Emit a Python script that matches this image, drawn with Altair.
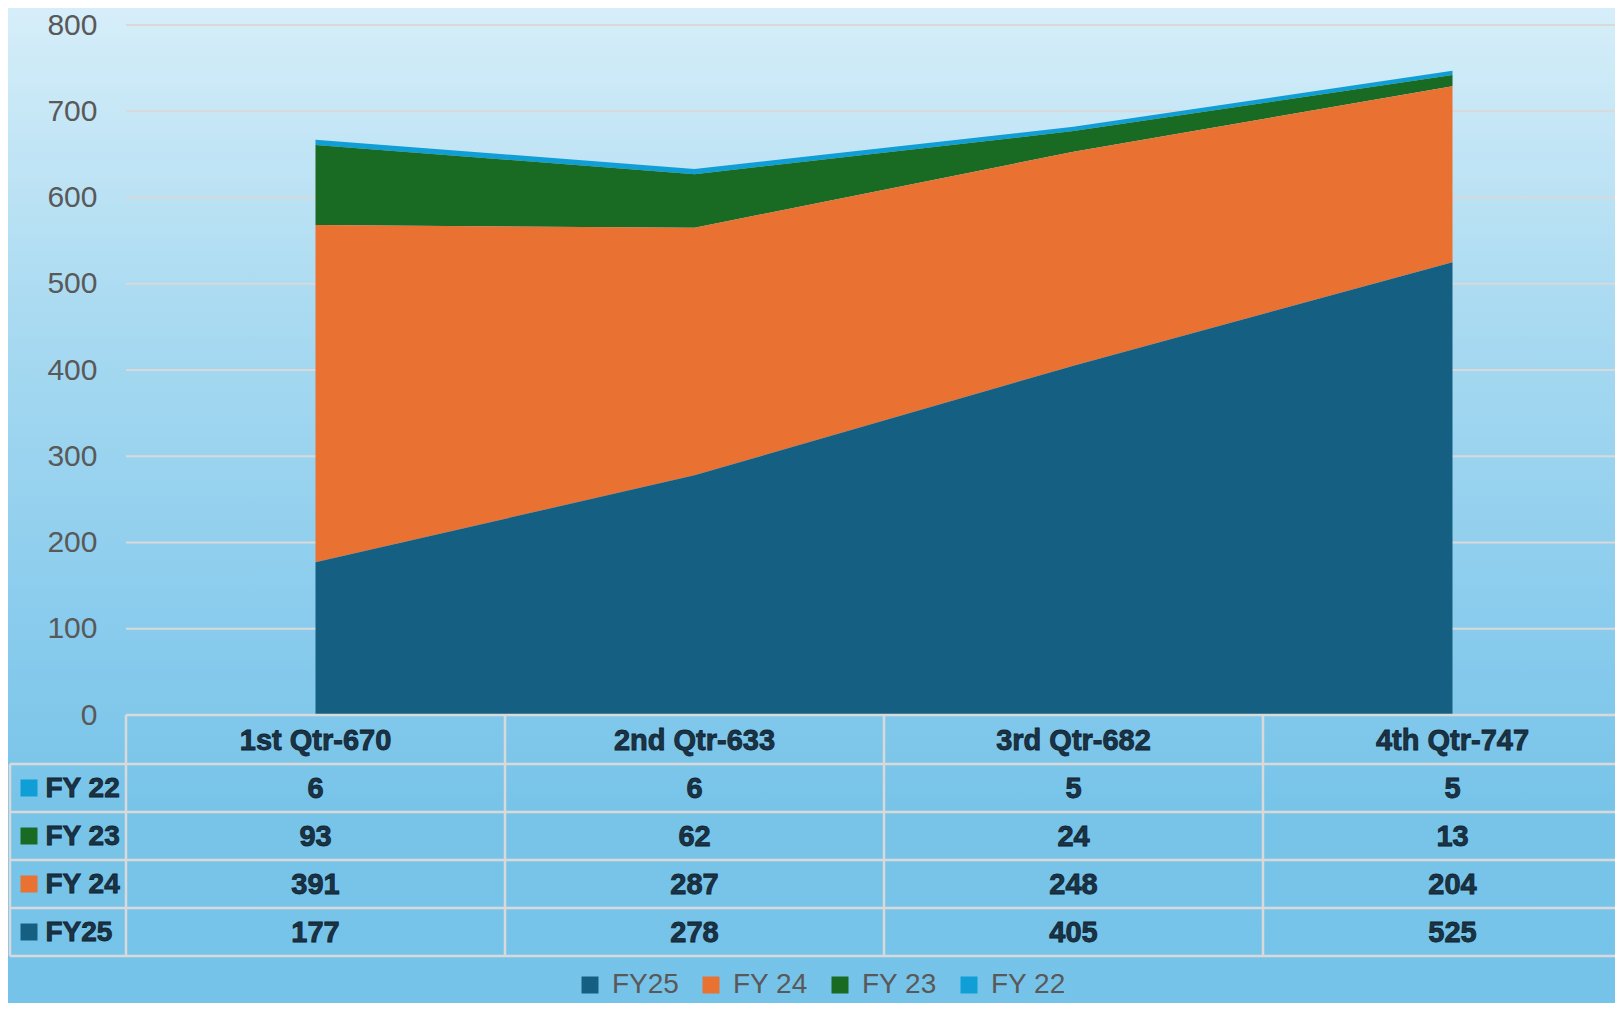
import altair as alt
import pandas as pd

# ---------------- data ----------------
quarters = ["1st Qtr-670", "2nd Qtr-633", "3rd Qtr-682", "4th Qtr-747"]
table_series = ["FY 22", "FY 23", "FY 24", "FY25"]          # table order, top to bottom
fy22 = [6, 6, 5, 5]
fy23 = [93, 62, 24, 13]
fy24 = [391, 287, 248, 204]
fy25 = [177, 278, 405, 525]
legend_order = ["FY25", "FY 24", "FY 23", "FY 22"]           # stack order, bottom to top
series_colors = ["#156082", "#E97132", "#196B24", "#0F9ED5"]
y_ticks = [0, 100, 200, 300, 400, 500, 600, 700, 800]

values_by_series = {"FY 22": fy22, "FY 23": fy23, "FY 24": fy24, "FY25": fy25}
rows = []
for s in table_series:
    for q, v in zip(quarters, values_by_series[s]):
        rows.append({"quarter": q, "series": s, "value": v,
                     "stack_order": legend_order.index(s)})
df = pd.DataFrame(rows)
color_of = dict(zip(legend_order, series_colors))

# ---------------- layout ----------------
W, H = 1489, 690
PAD_L, PAD_T, PAD_B = 118, 17, 288
STEP = 379
ROW_TOP = [690, 739, 787, 835, 883, 931]          # table lines (plot coords)
FONT = "Liberation Sans"
TXT = "#1B3445"
TXT_STROKE = "#0E2230"
GRID = "#D9D9D9"

x_enc = alt.X("quarter:N", sort=quarters,
              scale=alt.Scale(type="point", range=[0, 4 * STEP], padding=0.5),
              axis=None)
y_scale = alt.Scale(domain=[0, 800], nice=False, zero=True)
y_axis = alt.Axis(values=y_ticks, grid=False, domain=False, ticks=False,
                  labelFontSize=30, labelFont=FONT, labelColor="#595959",
                  labelPadding=29, title=None, zindex=1)
color_scale = alt.Scale(domain=legend_order, range=series_colors)

# background gradient
bg = alt.Chart(pd.DataFrame({"k": [0]})).mark_rect(
    color=alt.LinearGradient(
        gradient="linear",
        stops=[alt.GradientStop(offset=0, color="#D6EEF9"),
               alt.GradientStop(offset=0.31, color="#A9DAF1"),
               alt.GradientStop(offset=0.61, color="#8ACCED"),
               alt.GradientStop(offset=0.8, color="#78C4E9"),
               alt.GradientStop(offset=1, color="#76C3E9")],
        x1=0, x2=0, y1=0, y2=1)
).encode(x=alt.value(-PAD_L), x2=alt.value(W + 10),
         y=alt.value(-PAD_T), y2=alt.value(H + PAD_B))

grid = alt.Chart(pd.DataFrame({"v": y_ticks})).mark_rule(
    color=GRID, strokeWidth=2
).encode(y=alt.Y("v:Q", scale=y_scale, axis=y_axis),
         x=alt.value(0), x2=alt.value(W + 10))

area = alt.Chart(df).mark_area(opacity=1).encode(
    x=x_enc,
    y=alt.Y("value:Q", stack="zero", scale=y_scale, axis=y_axis),
    color=alt.Color("series:N", scale=color_scale,
                    legend=alt.Legend(orient="none", direction="horizontal",
                                      legendX=450, legendY=946, title=None,
                                      symbolType="square", symbolSize=289,
                                      symbolStrokeWidth=0, symbolOpacity=1,
                                      labelFontSize=28, labelFont=FONT,
                                      labelColor="#595959", labelOffset=8,
                                      columnPadding=18)),
    order=alt.Order("stack_order:Q", sort="ascending"),
)

layers = [bg, grid, area]

# table lines
layers.append(alt.Chart(pd.DataFrame({"k": [0]})).mark_rule(color=GRID, strokeWidth=2.5).encode(
    x=alt.value(0), x2=alt.value(W + 10), y=alt.value(ROW_TOP[0])))
for yl in ROW_TOP[1:]:
    layers.append(alt.Chart(pd.DataFrame({"k": [0]})).mark_rule(color=GRID, strokeWidth=2.5).encode(
        x=alt.value(-PAD_L + 2), x2=alt.value(W + 10), y=alt.value(yl)))
layers.append(alt.Chart(pd.DataFrame({"quarter": quarters})).mark_rule(
    color=GRID, strokeWidth=2.5, xOffset=-STEP / 2).encode(
    x=x_enc, y=alt.value(ROW_TOP[0]), y2=alt.value(ROW_TOP[-1])))
layers.append(alt.Chart(pd.DataFrame({"k": [0]})).mark_rule(color=GRID, strokeWidth=2.5).encode(
    x=alt.value(-PAD_L + 2), y=alt.value(ROW_TOP[1]), y2=alt.value(ROW_TOP[-1])))

text_style = dict(font=FONT, fontSize=29, fontWeight="bold", color=TXT,
                  stroke=TXT_STROKE, strokeWidth=0.8, baseline="middle")

# header row
layers.append(alt.Chart(pd.DataFrame({"quarter": quarters})).mark_text(
    align="center", **text_style).encode(
    x=x_enc, y=alt.value((ROW_TOP[0] + ROW_TOP[1]) / 2 + 1), text="quarter:N"))

# value rows
for i, s in enumerate(table_series):
    cy = (ROW_TOP[i + 1] + ROW_TOP[i + 2]) / 2 + 1
    layers.append(alt.Chart(df).transform_filter(alt.datum.series == s).mark_text(
        align="center", **text_style).encode(
        x=x_enc, y=alt.value(cy), text="value:Q"))
    layers.append(alt.Chart(pd.DataFrame({"series": [s]})).mark_text(
        align="left", **{**text_style, "fontSize": 28}).encode(
        x=alt.value(-80.5), y=alt.value(cy), text="series:N"))
    layers.append(alt.Chart(pd.DataFrame({"series": [s]})).mark_square(
        size=289, opacity=1, filled=True, color=color_of[s]).encode(
        x=alt.value(-97), y=alt.value(cy - 1)))

chart = alt.layer(*layers).properties(
    width=W, height=H,
    padding={"left": PAD_L, "top": PAD_T, "right": 0, "bottom": PAD_B},
    autosize=alt.AutoSizeParams(type="none"),
).configure_view(stroke=None).configure(background="#D6EEF9")

chart.save("out.html", embed_options={"renderer": "svg", "actions": False})
